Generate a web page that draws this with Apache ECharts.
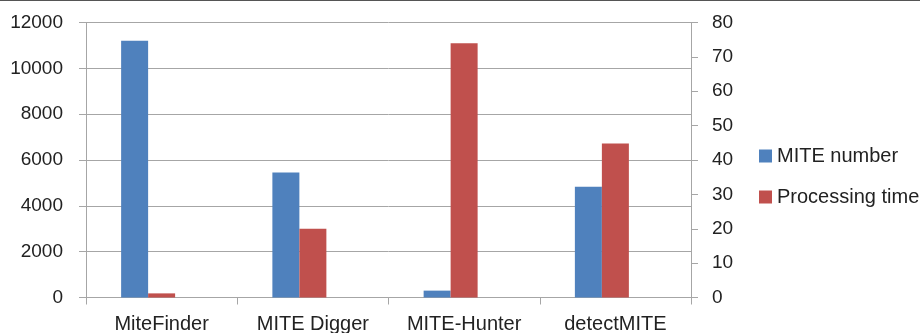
<!DOCTYPE html>
<html lang="en">
<head>
  <meta charset="UTF-8">
  <title>MITE tools</title>
  <script src="https://cdn.jsdelivr.net/npm/echarts@6/dist/echarts.min.js"></script>
  <style>
    html, body { margin: 0; padding: 0; background: #fff; }
    #chart { width: 920px; height: 332px; border-top: 1px solid #555; }
  </style>
</head>
<body>
  <div id="chart"></div>
  <script>
    // data
    var categories = ['MiteFinder', 'MITE Digger', 'MITE-Hunter', 'detectMITE'];
    var miteNumber = [11200, 5460, 300, 4830];
    var processingTime = [1.2, 20, 74, 44.8];

    var font = 'Liberation Sans, Arial, sans-serif';
    var gridColor = '#a6a6a6';
    var textColor = '#222';

    var chart = echarts.init(document.getElementById('chart'));
    chart.setOption({
      animation: false,
      grid: { left: 86, right: 229, top: 21.5, bottom: 35.5, outerBoundsMode: 'none', containLabel: false },
      legend: {
        orient: 'vertical',
        left: 759,
        top: 145,
        padding: 0,
        itemWidth: 13,
        itemHeight: 13,
        itemGap: 21,
        icon: 'rect',
        data: ['MITE number', 'Processing time'],
        textStyle: { fontFamily: font, fontSize: 20, color: textColor }
      },
      xAxis: {
        type: 'category',
        data: categories,
        axisLine: { lineStyle: { color: gridColor } },
        axisTick: { show: true, length: 7, lineStyle: { color: gridColor } },
        axisLabel: { fontFamily: font, fontSize: 20, color: textColor, margin: 17 }
      },
      yAxis: [
        {
          type: 'value',
          min: 0, max: 12000, interval: 2000,
          axisLine: { show: true, lineStyle: { color: gridColor } },
          axisTick: { show: true, length: 7, lineStyle: { color: gridColor } },
          splitLine: { lineStyle: { color: gridColor } },
          axisLabel: { fontFamily: font, fontSize: 19, color: textColor, margin: 23,
            formatter: function (v) { return String(v); } }
        },
        {
          type: 'value',
          min: 0, max: 80, interval: 10,
          axisLine: { show: true, lineStyle: { color: gridColor } },
          axisTick: { show: true, length: 7, lineStyle: { color: gridColor } },
          splitLine: { show: false },
          axisLabel: { fontFamily: font, fontSize: 19, color: textColor, margin: 21 }
        }
      ],
      series: [
        {
          name: 'MITE number',
          type: 'bar',
          yAxisIndex: 0,
          barWidth: 27,
          barGap: '0%',
          itemStyle: { color: '#4F81BD' },
          data: miteNumber
        },
        {
          name: 'Processing time',
          type: 'bar',
          yAxisIndex: 1,
          barWidth: 27,
          barGap: '0%',
          itemStyle: { color: '#C0504D' },
          data: processingTime
        },
        {
          // empty slot, keeps the pair left of the category centre like the original
          name: 'spacer',
          type: 'bar',
          yAxisIndex: 1,
          barWidth: 27,
          barGap: '0%',
          data: []
        }
      ]
    });
  </script>
</body>
</html>
